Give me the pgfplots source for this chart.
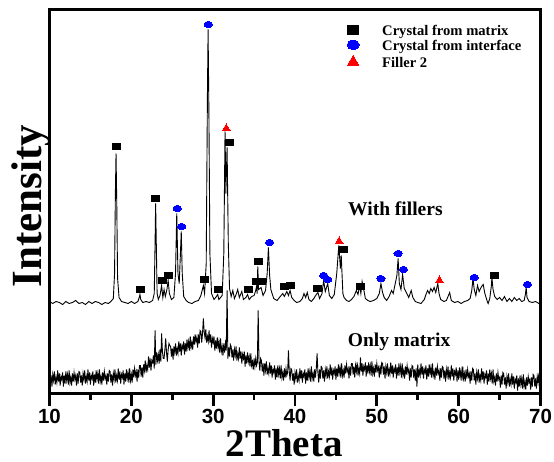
\documentclass[border=0pt]{standalone}
\usepackage{fontspec}
\setmainfont{Liberation Serif}
\setsansfont{Liberation Sans}
\usepackage{pgfplots}
\pgfplotsset{compat=1.18}
\definecolor{mblue}{RGB}{0,0,255}
\definecolor{mred}{RGB}{255,0,0}
\pgfplotsset{lgmark/.style={legend image code/.code={\draw[##1,/tikz/every mark/.append style={scale=1.45}] plot coordinates {(0pt,2pt)};}}}

\begin{document}
\begin{tikzpicture}
\path[use as bounding box] (0pt,0pt) rectangle (554pt,461pt);
\begin{axis}[
  at={(49.5pt,67.5pt)}, anchor=south west,
  width=491pt, height=384pt, scale only axis,
  axis lines=box,
  xmin=10, xmax=70, ymin=0, ymax=384,
  xtick={10,20,...,70}, minor x tick num=1,
  ytick=\empty,
  xtick pos=left, tick align=outside,
  major tick length=12pt, minor tick length=6.5pt,
  tick style={line width=2.7pt,black},
  axis line style={line width=3pt},
  xticklabel style={font=\fontsize{20.5}{20.5}\selectfont\sffamily\bfseries},
  /pgf/number format/assume math mode=true,
  xlabel={2Theta}, ylabel={Intensity},
  xlabel style={font=\fontsize{39}{39}\selectfont\bfseries, inner sep=0pt, at={(axis description cs:0.4776,0)}, anchor=base, yshift=-63pt},
  ylabel style={font=\fontsize{43}{43}\selectfont\bfseries, inner sep=0pt, at={(axis description cs:-0.0159,0.488)}, anchor=base},
  legend style={at={(axis cs:46.35,368.5)}, anchor=north west, draw=none, fill=none, inner sep=0pt,
    font=\fontsize{14.6}{14.6}\selectfont\bfseries,
    nodes={inner sep=0pt, text height=10pt, text depth=3pt},
    row sep=2pt, /tikz/every odd column/.append style={column sep=23pt}},
  legend cell align=left,
]
% only matrix
\addplot[black, line width=0.9pt, forget plot] coordinates {
(10.0,21)(10.1,10)(10.2,18)(10.3,7)(10.4,19)(10.5,13)(10.6,22)(10.7,9)(10.8,16)(10.9,11)
(11.0,23)(11.1,12)(11.2,20)(11.3,8)(11.4,17)(11.5,14)(11.6,21)(11.7,7)(11.8,18)(11.9,10)
(12.0,22)(12.1,13)(12.2,19)(12.3,9)(12.4,23)(12.5,11)(12.6,16)(12.7,8)(12.8,20)(12.9,12)
(13.0,21)(13.1,14)(13.2,18)(13.3,8)(13.4,20)(13.5,10)(13.6,22)(13.7,21)(13.8,11)(13.9,18)
(14.0,8)(14.1,20)(14.2,14)(14.3,23)(14.4,10)(14.5,17)(14.6,12)(14.7,24)(14.8,13)(14.9,21)
(15.0,9)(15.1,18)(15.2,15)(15.3,22)(15.4,8)(15.5,19)(15.6,11)(15.7,23)(15.8,14)(15.9,20)
(16.0,10)(16.1,24)(16.2,12)(16.3,17)(16.4,9)(16.5,21)(16.6,13)(16.7,22)(16.8,15)(16.9,18)
(17.0,9)(17.1,20)(17.2,12)(17.3,23)(17.4,22)(17.5,11)(17.6,19)(17.7,8)(17.8,20)(17.9,14)
(18.0,24)(18.1,11)(18.2,18)(18.3,13)(18.4,25)(18.5,14)(18.6,22)(18.7,10)(18.8,19)(18.9,16)
(19.0,23)(19.1,9)(19.2,20)(19.3,12)(19.4,24)(19.5,15)(19.6,21)(19.7,11)(19.8,25)(19.9,13)
(20.0,19)(20.1,11)(20.2,24)(20.3,16)(20.4,25)(20.5,18)(20.6,22)(20.7,12)(20.8,24)(20.9,16)
(21.0,28)(21.1,28)(21.2,17)(21.3,26)(21.4,16)(21.5,29)(21.6,23)(21.7,33)(21.8,21)(21.9,28)
(22.0,24)(22.1,37)(22.2,26)(22.3,35)(22.4,23)(22.5,33)(22.6,31)(22.7,38)(22.8,25)(22.9,63)
(23.0,29)(23.1,41)(23.2,33)(23.3,39)(23.4,30)(23.5,44)(23.6,32)(23.7,60)(23.8,42)(23.9,35)
(24.0,35)(24.1,44)(24.2,55)(24.3,41)(24.4,32)(24.5,44)(24.6,50)(24.7,48)(24.8,47)(24.9,37)
(25.0,45)(25.1,34)(25.2,47)(25.3,41)(25.4,50)(25.5,38)(25.6,45)(25.7,40)(25.8,52)(25.9,42)
(26.0,50)(26.1,38)(26.2,48)(26.3,45)(26.4,52)(26.5,39)(26.6,50)(26.7,42)(26.8,54)(26.9,46)
(27.0,52)(27.1,43)(27.2,57)(27.3,46)(27.4,51)(27.5,44)(27.6,57)(27.7,49)(27.8,59)(27.9,52)
(28.0,56)(28.1,46)(28.2,59)(28.3,50)(28.4,63)(28.5,62)(28.6,51)(28.7,60)(28.8,75)(28.9,62)
(29.0,56)(29.1,64)(29.2,51)(29.3,57)(29.4,52)(29.5,63)(29.6,51)(29.7,59)(29.8,46)(29.9,55)
(30.0,51)(30.1,57)(30.2,43)(30.3,53)(30.4,45)(30.5,56)(30.6,46)(30.7,52)(30.8,41)(30.9,55)
(31.0,42)(31.1,47)(31.2,38)(31.3,50)(31.4,41)(31.5,50)(31.6,43)(31.7,103)(31.8,35)(31.9,46)
(32.0,37)(32.1,49)(32.2,47)(32.3,36)(32.4,44)(32.5,33)(32.6,44)(32.7,38)(32.8,47)(32.9,33)
(33.0,40)(33.1,35)(33.2,46)(33.3,35)(33.4,42)(33.5,30)(33.6,39)(33.7,35)(33.8,42)(33.9,27)
(34.0,38)(34.1,30)(34.2,41)(34.3,32)(34.4,37)(34.5,27)(34.6,40)(34.7,28)(34.8,32)(34.9,24)
(35.0,35)(35.1,27)(35.2,35)(35.3,28)(35.4,31)(35.5,83)(35.6,32)(35.7,23)(35.8,35)(35.9,33)
(36.0,22)(36.1,30)(36.2,18)(36.3,30)(36.4,23)(36.5,32)(36.6,19)(36.7,25)(36.8,20)(36.9,31)
(37.0,20)(37.1,28)(37.2,16)(37.3,24)(37.4,21)(37.5,28)(37.6,14)(37.7,25)(37.8,16)(37.9,28)
(38.0,19)(38.1,25)(38.2,15)(38.3,28)(38.4,16)(38.5,21)(38.6,13)(38.7,25)(38.8,16)(38.9,25)
(39.0,18)(39.1,21)(39.2,43)(39.3,22)(39.4,13)(39.5,25)(39.6,24)(39.7,13)(39.8,20)(39.9,9)
(40.0,21)(40.1,15)(40.2,24)(40.3,11)(40.4,18)(40.5,13)(40.6,25)(40.7,15)(40.8,23)(40.9,11)
(41.0,20)(41.1,17)(41.2,24)(41.3,10)(41.4,21)(41.5,13)(41.6,25)(41.7,16)(41.8,22)(41.9,12)
(42.0,27)(42.1,15)(42.2,20)(42.3,12)(42.4,24)(42.5,16)(42.6,25)(42.7,40)(42.8,21)(42.9,11)
(43.0,24)(43.1,15)(43.2,27)(43.3,26)(43.4,15)(43.5,23)(43.6,12)(43.7,24)(43.8,18)(43.9,27)
(44.0,15)(44.1,22)(44.2,17)(44.3,29)(44.4,18)(44.5,26)(44.6,14)(44.7,23)(44.8,20)(44.9,27)
(45.0,14)(45.1,25)(45.2,17)(45.3,29)(45.4,20)(45.5,26)(45.6,16)(45.7,30)(45.8,18)(45.9,23)
(46.0,16)(46.1,28)(46.2,20)(46.3,29)(46.4,22)(46.5,25)(46.6,15)(46.7,27)(46.8,18)(46.9,30)
(47.0,30)(47.1,19)(47.2,27)(47.3,16)(47.4,28)(47.5,22)(47.6,31)(47.7,18)(47.8,25)(47.9,20)
(48.0,36)(48.1,22)(48.2,30)(48.3,18)(48.4,27)(48.5,24)(48.6,31)(48.7,17)(48.8,28)(48.9,20)
(49.0,31)(49.1,22)(49.2,28)(49.3,18)(49.4,32)(49.5,20)(49.6,25)(49.7,17)(49.8,29)(49.9,21)
(50.0,30)(50.1,23)(50.2,26)(50.3,16)(50.4,28)(50.5,19)(50.6,31)(50.7,30)(50.8,19)(50.9,27)
(51.0,15)(51.1,27)(51.2,21)(51.3,30)(51.4,17)(51.5,24)(51.6,19)(51.7,31)(51.8,20)(51.9,28)
(52.0,16)(52.1,25)(52.2,22)(52.3,29)(52.4,15)(52.5,26)(52.6,18)(52.7,30)(52.8,21)(52.9,27)
(53.0,16)(53.1,30)(53.2,18)(53.3,23)(53.4,15)(53.5,27)(53.6,19)(53.7,28)(53.8,21)(53.9,24)
(54.0,13)(54.1,25)(54.2,16)(54.3,28)(54.4,27)(54.5,16)(54.6,24)(54.7,13)(54.8,25)(54.9,7)
(55.0,29)(55.1,16)(55.2,23)(55.3,18)(55.4,30)(55.5,19)(55.6,27)(55.7,15)(55.8,24)(55.9,21)
(56.0,28)(56.1,14)(56.2,25)(56.3,17)(56.4,29)(56.5,20)(56.6,26)(56.7,16)(56.8,30)(56.9,18)
(57.0,22)(57.1,14)(57.2,26)(57.3,18)(57.4,27)(57.5,20)(57.6,23)(57.7,13)(57.8,25)(57.9,16)
(58.0,27)(58.1,26)(58.2,15)(58.3,23)(58.4,12)(58.5,24)(58.6,18)(58.7,27)(58.8,14)(58.9,21)
(59.0,16)(59.1,28)(59.2,17)(59.3,25)(59.4,13)(59.5,22)(59.6,19)(59.7,26)(59.8,12)(59.9,23)
(60.0,14)(60.1,26)(60.2,17)(60.3,23)(60.4,13)(60.5,27)(60.6,15)(60.7,20)(60.8,12)(60.9,24)
(61.0,15)(61.1,24)(61.2,17)(61.3,20)(61.4,10)(61.5,22)(61.6,13)(61.7,25)(61.8,24)(61.9,13)
(62.0,20)(62.1,9)(62.2,21)(62.3,15)(62.4,24)(62.5,11)(62.6,18)(62.7,13)(62.8,25)(62.9,14)
(63.0,22)(63.1,10)(63.2,19)(63.3,16)(63.4,23)(63.5,9)(63.6,20)(63.7,12)(63.8,24)(63.9,15)
(64.0,20)(64.1,10)(64.2,24)(64.3,12)(64.4,16)(64.5,8)(64.6,20)(64.7,12)(64.8,21)(64.9,14)
(65.0,16)(65.1,6)(65.2,18)(65.3,9)(65.4,21)(65.5,20)(65.6,9)(65.7,16)(65.8,5)(65.9,17)
(66.0,11)(66.1,20)(66.2,7)(66.3,14)(66.4,9)(66.5,20)(66.6,9)(66.7,17)(66.8,5)(66.9,14)
(67.0,11)(67.1,18)(67.2,3)(67.3,15)(67.4,7)(67.5,18)(67.6,9)(67.7,15)(67.8,5)(67.9,19)
(68.0,7)(68.1,12)(68.2,4)(68.3,16)(68.4,8)(68.5,17)(68.6,11)(68.7,14)(68.8,4)(68.9,16)
(69.0,7)(69.1,19)(69.2,18)(69.3,7)(69.4,15)(69.5,5)(69.6,17)(69.7,11)(69.8,20)(69.9,7)
(70.0,17)
};
% with fillers
\addplot[black, line width=0.9pt, forget plot] coordinates {
(10.0,92)(10.4,90)(10.8,92)(11.2,91)(11.6,89)(12.0,92)(12.4,90)(12.8,91)(13.2,93)(13.6,90)
(14.0,91)(14.4,89)(14.8,92)(15.2,90)(15.6,92)(16.0,91)(16.4,89)(16.8,91)(17.2,90)(17.5,92)
(17.8,95)(17.95,120)(18.05,200)(18.13,240)(18.22,190)(18.32,115)(18.5,96)(18.8,92)(19.2,91)
(19.6,90)(20.0,92)(20.4,90)(20.8,92)(21.0,97)(21.05,99)(21.15,94)(21.4,91)(21.8,92)(22.2,91)
(22.6,93)(22.8,100)(22.9,150)(22.97,190)(23.05,150)(23.15,100)(23.3,94)(23.5,98)(23.7,108)
(23.85,96)(24.0,104)(24.15,97)(24.35,104)(24.5,113)(24.65,100)(24.9,94)(25.2,96)(25.4,120)
(25.55,180)(25.7,120)(25.85,110)(26.0,140)(26.1,162)(26.22,120)(26.4,97)(26.7,93)(27.0,91)
(27.4,90)(27.8,92)(28.2,93)(28.5,98)(28.8,108)(28.95,100)(29.15,130)(29.3,300)(29.38,364)
(29.48,280)(29.6,140)(29.8,100)(30.1,94)(30.4,97)(30.55,99)(30.7,94)(30.9,96)(31.1,98)
(31.3,140)(31.45,262)(31.55,200)(31.7,246)(31.85,150)(32.0,105)(32.2,97)(32.4,103)(32.6,95)
(32.8,99)(33.0,104)(33.2,96)(33.5,102)(33.7,94)(34.0,96)(34.2,99)(34.4,94)(34.7,97)(35.0,98)
(35.2,103)(35.3,107)(35.38,100)(35.45,127)(35.55,104)(35.85,106)(36.1,98)(36.4,103)(36.6,120)
(36.75,146)(36.9,118)(37.05,104)(37.2,100)(37.4,95)(37.8,93)(38.1,96)(38.5,100)(38.7,97)
(39.0,102)(39.2,98)(39.4,103)(39.6,96)(39.9,93)(40.2,91)(40.6,92)(40.9,95)(41.1,100)(41.3,96)
(41.5,101)(41.7,94)(42.0,92)(42.3,95)(42.6,99)(42.8,101)(43.0,95)(43.3,100)(43.5,113)(43.7,102)
(44.0,110)(44.2,98)(44.5,95)(44.8,99)(45.1,120)(45.35,148)(45.55,125)(45.65,138)(45.85,100)
(46.0,96)(46.3,93)(46.6,92)(46.9,94)(47.2,97)(47.5,103)(47.7,99)(47.9,108)(48.05,100)(48.2,112)
(48.4,104)(48.6,95)(48.9,93)(49.2,92)(49.6,93)(50.0,95)(50.3,100)(50.5,110)(50.7,101)(50.9,96)
(51.2,93)(51.5,97)(51.8,103)(52.0,100)(52.2,108)(52.45,118)(52.6,135)(52.75,110)(52.95,104)
(53.15,119)(53.35,105)(53.6,101)(53.9,96)(54.2,103)(54.4,96)(54.7,92)(55.0,91)(55.4,90)
(55.8,94)(56.0,99)(56.2,103)(56.4,100)(56.6,105)(56.8,102)(57.0,106)(57.2,101)(57.45,110)
(57.6,100)(57.8,94)(58.2,92)(58.5,93)(58.9,101)(59.1,93)(59.5,91)(59.9,92)(60.3,90)(60.7,92)
(61.1,93)(61.4,95)(61.6,103)(61.75,115)(61.9,104)(62.1,98)(62.3,108)(62.5,102)(62.8,107)
(63.0,109)(63.2,100)(63.5,92)(63.6,90)(63.8,95)(64.0,108)(64.06,116)(64.2,104)(64.4,97)
(64.7,94)(65.0,96)(65.3,93)(65.6,97)(65.9,92)(66.2,95)(66.5,92)(66.8,96)(67.1,93)(67.4,95)
(67.7,92)(68.0,93)(68.15,99)(68.25,106)(68.35,96)(68.6,92)(69.0,91)(69.4,92)(69.8,90)(70.0,91)
};
% phase markers
\addplot[only marks, mark=square*, mark size=3pt, mark options={xscale=1.33, fill=black, draw=black, line width=0pt}, lgmark] coordinates {
(18.2,247)(21.1,104)(23.0,195)(23.75,113)(24.55,118)(28.9,114)(30.6,104)(32.0,251)
(34.3,104)(35.3,112)(35.5,132)(35.9,112)(38.75,107)(39.4,108)(42.8,105)(45.9,144)
(47.95,107)(64.4,118)
};
\addlegendentry{Crystal from matrix}
\addplot[only marks, mark=*, mark size=3.15pt, mark options={xscale=1.32, fill=mblue, draw=mblue, line width=0pt}, lgmark] coordinates {
(29.4,369)(25.6,185)(26.15,167)(36.9,151)(43.5,118)(44.0,114)(50.5,115)(52.6,140)
(53.25,124)(61.9,116)(68.4,109)
};
\addlegendentry{Crystal from interface}
\addplot[only marks, mark=triangle*, mark size=4.6pt, mark options={fill=mred, draw=mred, line width=0pt}, lgmark] coordinates {
(31.6,265)(45.4,152)(57.65,113)
};
\addlegendentry{Filler 2}
\node[font=\fontsize{19.5}{19.5}\selectfont\bfseries, anchor=base] at (axis cs:52.27,178.5) {With fillers};
\node[font=\fontsize{19.5}{19.5}\selectfont\bfseries, anchor=base] at (axis cs:52.72,47) {Only matrix};
\draw[line width=3pt] (rel axis cs:0,0) rectangle (rel axis cs:1,1);
\end{axis}
\end{tikzpicture}
\end{document}
